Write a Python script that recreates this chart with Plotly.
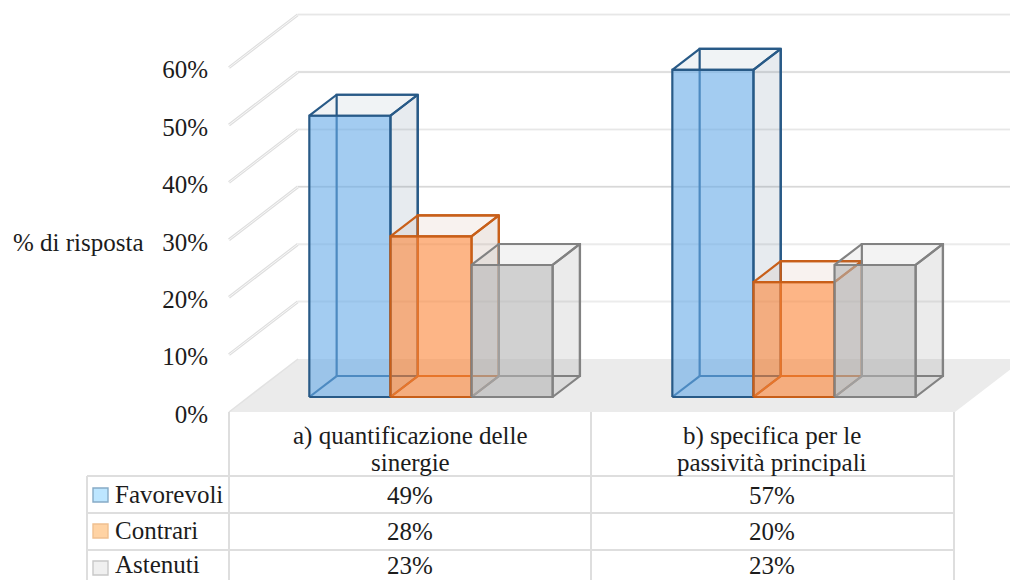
import plotly.graph_objects as go

# Survey results, percentage of answers per proposal
series_names = ["Favorevoli", "Contrari", "Astenuti"]
favorevoli = [49, 57]
contrari = [28, 20]
astenuti = [23, 23]
category_lines = [["a) quantificazione delle", "sinergie"], ["b) specifica per le", "passività principali"]]
tick_values = [0, 10, 20, 30, 40, 50, 60]
tick_labels = ["0%", "10%", "20%", "30%", "40%", "50%", "60%"]

W, H = 1010, 580
FONT = "Liberation Serif"
TEXT = "#1c1c1c"
FS = 25

# Pixel scale of the oblique projection
X0, PX_PER_CAT = 229.0, 363.0
Y0, PX_PER_PCT = 412.0, 5.74
DEPTH_X, DEPTH_Y = 69.0, 53.0     # full floor depth in pixels

def project(u, v, d):
    """Category unit, percent and depth (0 front, 1 back) to plotted x, y."""
    return u + d * DEPTH_X / PX_PER_CAT, v + d * DEPTH_Y / PX_PER_PCT

BAR_W = 0.2234
BAR_START = 0.1675
D_FRONT, D_BACK = 0.283, 0.679

styles = [
    dict(front="rgba(102,170,232,0.6)", side="rgba(70,100,130,0.13)", top="rgba(70,100,130,0.08)", edge="rgb(40,90,135)"),
    dict(front="rgba(252,132,53,0.6)", side="rgba(130,70,40,0.12)", top="rgba(150,70,30,0.07)", edge="rgb(200,95,25)"),
    dict(front="rgba(178,178,178,0.6)", side="rgba(120,120,120,0.15)", top="rgba(120,120,120,0.09)", edge="rgb(130,130,130)"),
]

fig = go.Figure()

def poly(points, fill=None, line=None, width=2.2):
    xs = [p[0] for p in points]
    ys = [p[1] for p in points]
    fig.add_trace(go.Scatter(
        x=xs, y=ys, mode="lines" if line else "none",
        fill="toself" if fill else "none", fillcolor=fill,
        line=dict(color=line, width=width) if line else None,
        hoverinfo="skip", showlegend=False))

# Floor of the chart box
floor = [project(0, 0, 0), project(0, 0, 1), project(2, 0, 1), project(2, 0, 0), project(0, 0, 0)]
poly(floor, fill="#ebebeb")

# Gridlines: hollow strokes on the left wall, soft band plus hairline on the back wall
hairline = {10: "#ececec", 20: "#e8e8e8", 30: "#cccccc", 40: "#e6e6e6", 50: "#cccccc", 60: "#e6e6e6"}
for t in tick_values[1:]:
    poly([project(0, t, 0), project(0, t, 1)], line="#dedede", width=3)
    poly([project(0, t, 0), project(0, t, 1)], line="#f8f8f8", width=1)
    poly([project(0, t, 1), project(2, t, 1)], line="#f3f3f3", width=2.5)
    poly([project(0, t, 1), project(2, t, 1)], line=hairline[t], width=1)
poly([project(0, 0, 0), project(0, 0, 1)], line="#e2e2e2", width=1.5)

# Boxes, drawn left to right so that the later ones overlay the earlier ones
values_by_series = [favorevoli, contrari, astenuti]
for c in range(2):
    for s, vals in enumerate(values_by_series):
        st = styles[s]
        v = vals[c]
        a = c + BAR_START + s * BAR_W
        b = a + BAR_W
        # hidden edges first, they show through the front face
        poly([project(a, 0, D_BACK), project(b, 0, D_BACK), project(b, v, D_BACK),
              project(a, v, D_BACK), project(a, 0, D_BACK)], line=st["edge"])
        poly([project(a, 0, D_FRONT), project(a, 0, D_BACK)], line=st["edge"])
        # right side face
        poly([project(b, 0, D_FRONT), project(b, 0, D_BACK), project(b, v, D_BACK),
              project(b, v, D_FRONT), project(b, 0, D_FRONT)], fill=st["side"], line=st["edge"])
        # top face
        poly([project(a, v, D_FRONT), project(a, v, D_BACK), project(b, v, D_BACK),
              project(b, v, D_FRONT), project(a, v, D_FRONT)], fill=st["top"], line=st["edge"])
        # front face
        poly([project(a, 0, D_FRONT), project(b, 0, D_FRONT), project(b, v, D_FRONT),
              project(a, v, D_FRONT), project(a, 0, D_FRONT)], fill=st["front"], line=st["edge"])

# Data table under the plot, laid out in page pixels
RULE = "#dedede"
def rule(x0, y0, x1, y1):
    fig.add_shape(type="line", xref="paper", yref="paper",
                  x0=x0 / W, x1=x1 / W, y0=1 - y0 / H, y1=1 - y1 / H,
                  line=dict(color=RULE, width=2))

for x in (229, 591, 954):
    rule(x, 412, x, 580)
rule(87, 476, 87, 580)
for y in (476, 513, 550):
    rule(87, y, 954, y)

def label(x, y, text, anchor="center"):
    fig.add_annotation(xref="paper", yref="paper", x=x / W, y=1 - y / H, text=text,
                       showarrow=False, xanchor=anchor, yanchor="middle",
                       font=dict(family=FONT, size=FS, color=TEXT), borderpad=0, align="center")

col_centers = [410, 772]
for cx, lines in zip(col_centers, category_lines):
    label(cx, 436, lines[0])
    label(cx, 462, lines[1])

row_centers = [495, 531, 568]
text_rows = [495, 531, 565]     # last row's text sits just inside the page edge
key_fill = ["#bde6ff", "#ffd3a4", "#f0f0f0"]
key_line = ["#86aac6", "#f0c090", "#c8c8c8"]
for name, vals, cy, ty, kf, kl in zip(series_names, values_by_series, row_centers, text_rows, key_fill, key_line):
    label(114, ty - 1, name, anchor="left")
    for cx, v in zip(col_centers, vals):
        label(cx, ty, f"{v}%")
    fig.add_shape(type="rect", xref="paper", yref="paper",
                  x0=93 / W, x1=108 / W, y0=1 - (cy - 7) / H, y1=1 - (cy + 7) / H,
                  fillcolor=kf, line=dict(color=kl, width=1.4))

label(78, 242, "% di risposta")

fig.update_layout(
    width=W, height=H, autosize=False,
    margin=dict(l=0, r=0, t=0, b=0),
    paper_bgcolor="white", plot_bgcolor="white",
    showlegend=False,
    xaxis=dict(visible=False, domain=[0, 1], fixedrange=True,
               range=[-X0 / PX_PER_CAT, (W - X0) / PX_PER_CAT]),
    yaxis=dict(anchor="free", position=X0 / W, domain=[0, 1], fixedrange=True,
               range=[(Y0 - H) / PX_PER_PCT, Y0 / PX_PER_PCT],
               tickmode="array", tickvals=tick_values, ticktext=tick_labels,
               ticks="", showgrid=False, zeroline=False, showline=False,
               ticklabelstandoff=21, ticklabelshift=2,
               tickfont=dict(family=FONT, size=FS, color=TEXT)),
)

fig.write_html("out.html", config={"displayModeBar": False})
